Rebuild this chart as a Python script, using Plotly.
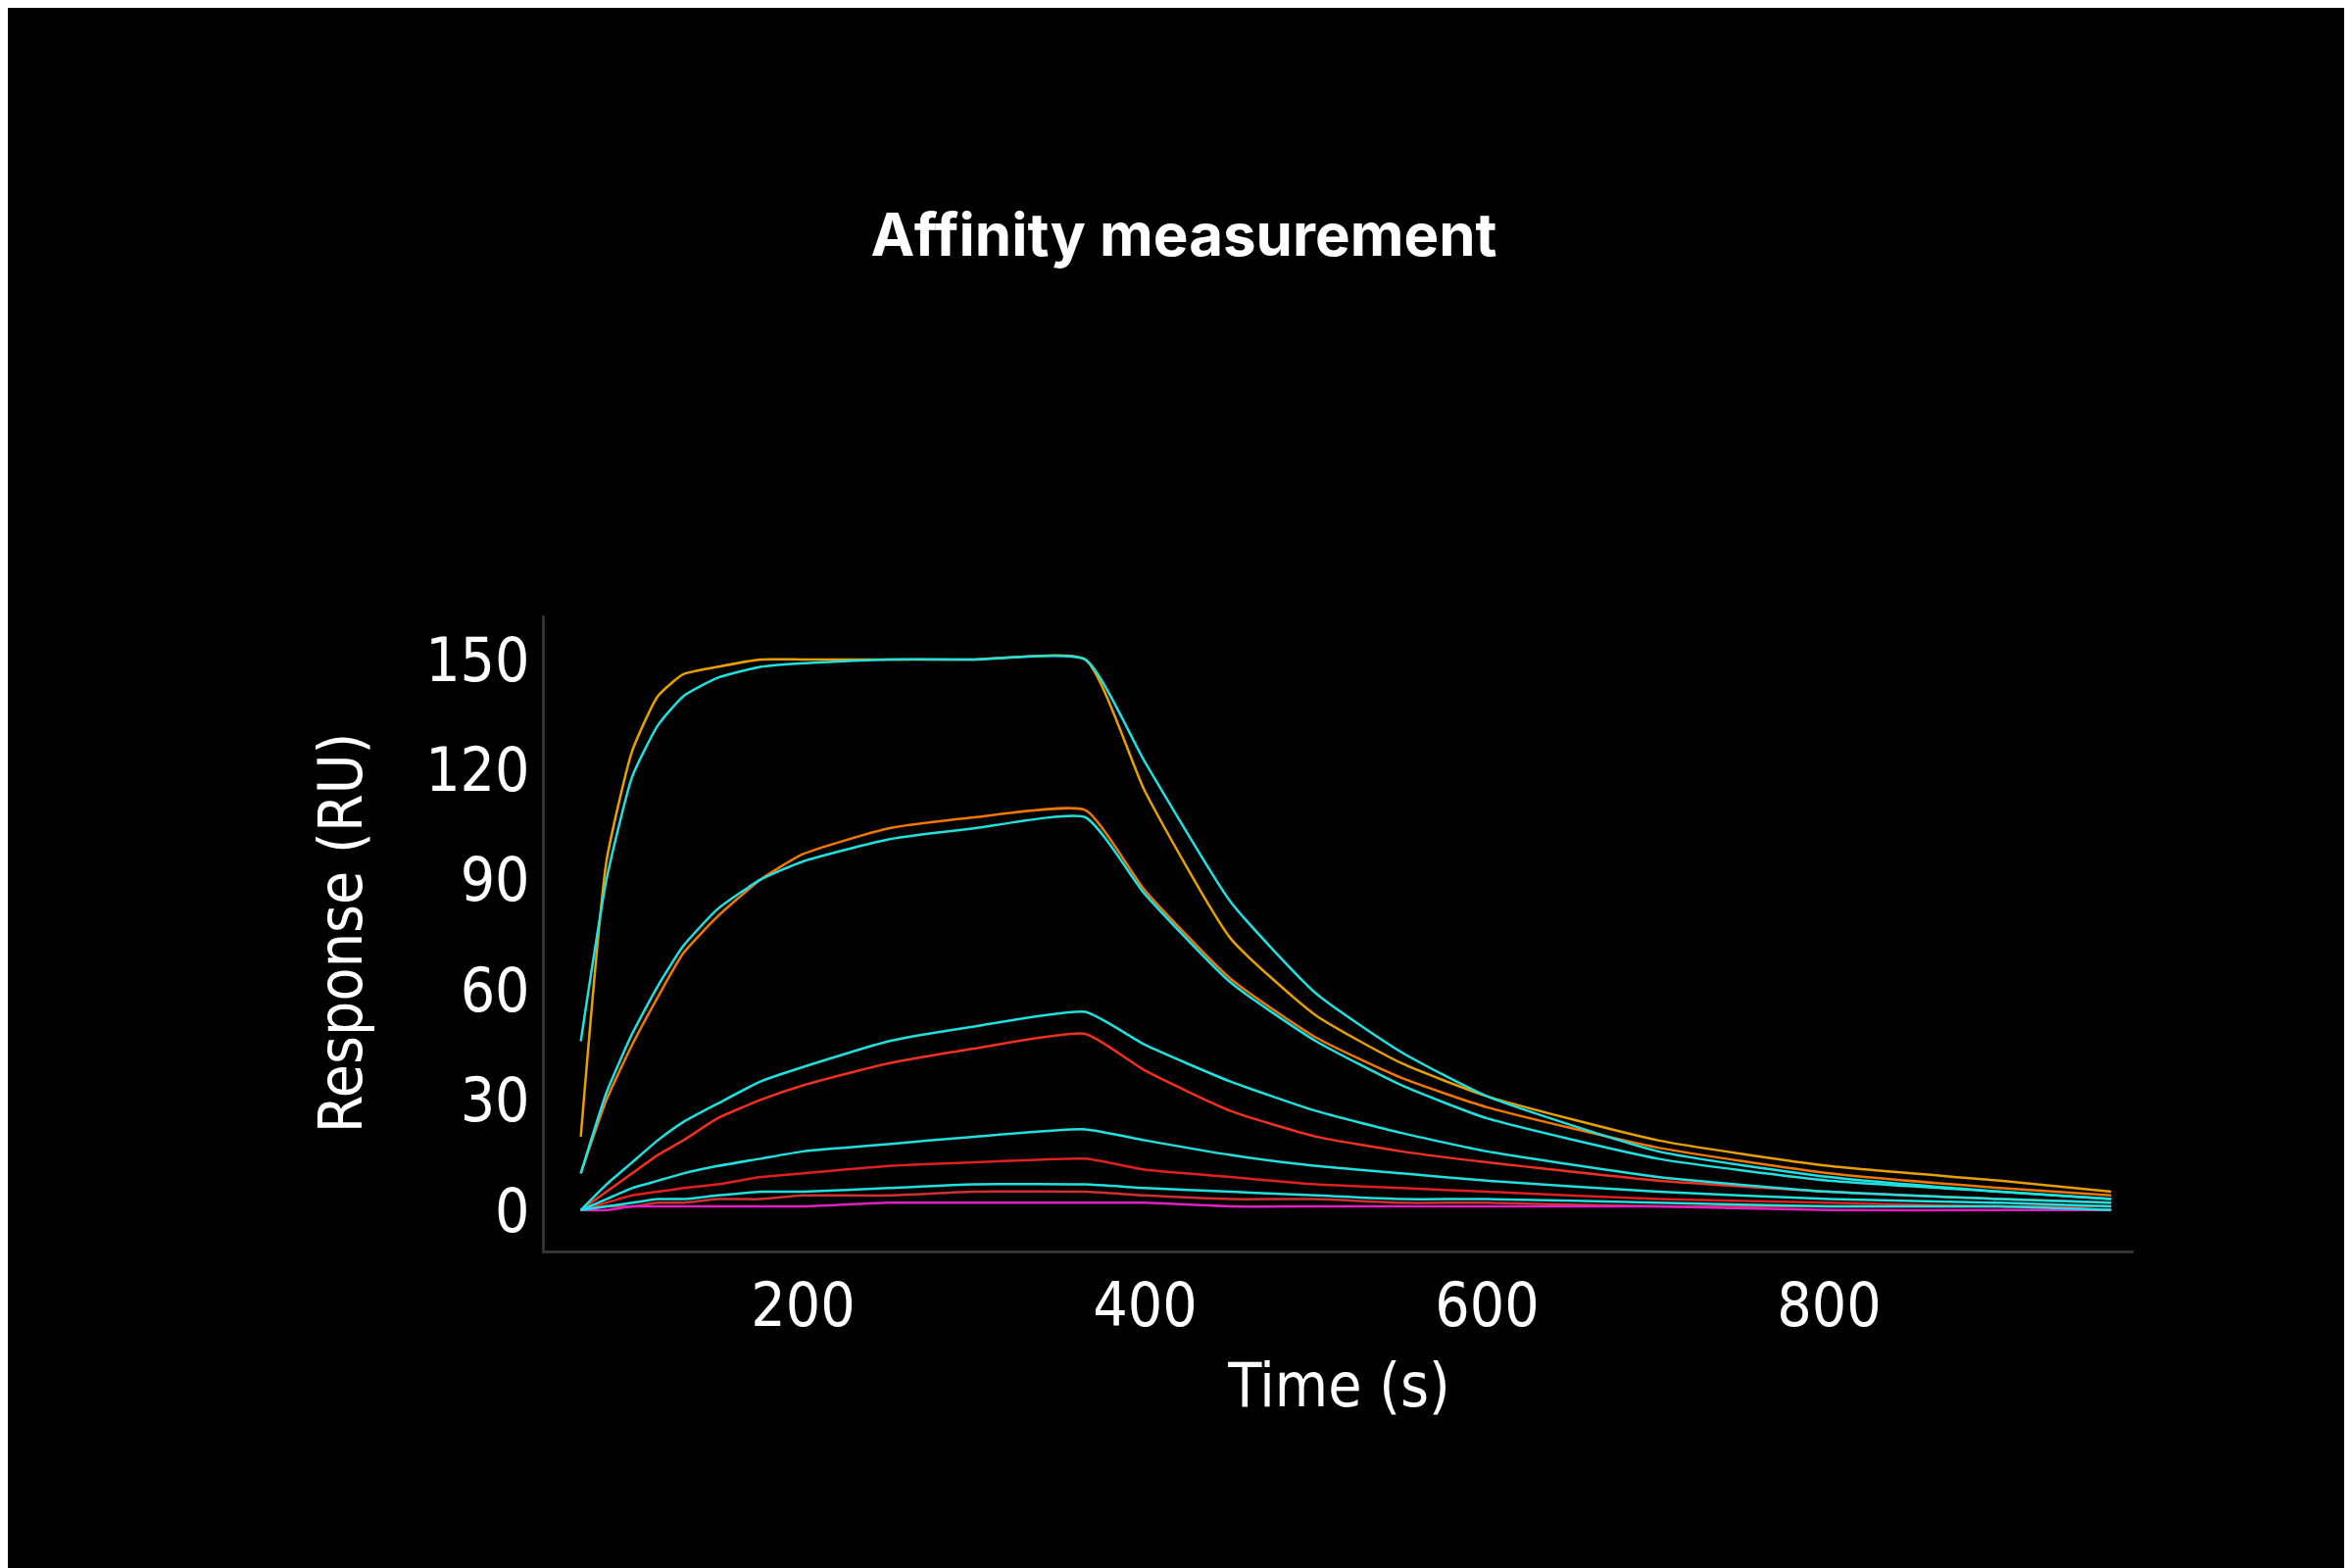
import plotly.graph_objects as go

# sample times (s)
t = [70, 85, 100, 115, 130, 150, 175, 200, 250, 300, 365,
     400, 450, 500, 550, 600, 700, 800, 900, 965]

# measured curves
meas_1 = [20, 95, 125, 140, 146, 148, 150, 150, 150, 150, 150,
          114, 74, 53, 40, 31, 19, 12, 8, 5]
meas_2 = [10, 30, 45, 58, 70, 80, 90, 97, 104, 107, 109,
          87, 63, 47, 36, 28, 17, 10, 6, 4]
meas_3 = [0, 5, 10, 15, 19, 25, 30, 34, 40, 44, 48,
          38, 27, 20, 16, 13, 8, 5, 3, 2]
meas_4 = [0, 2, 4, 5, 6, 7, 9, 10, 12, 13, 14,
          11, 9, 7, 6, 5, 3, 2, 1, 1]
meas_5 = [0, 1, 1, 2, 2, 3, 3, 4, 4, 5, 5,
          4, 3, 3, 2, 2, 1, 1, 1, 0]
meas_6 = [0, 0, 1, 1, 1, 1, 1, 1, 2, 2, 2,
          2, 1, 1, 1, 1, 1, 0, 0, 0]

# fitted curves
fit_1 = [46, 90, 118, 132, 140, 145, 148, 149, 150, 150, 150,
         122, 84, 59, 43, 31, 16, 9, 5, 3]
fit_2 = [10, 32, 48, 61, 72, 82, 90, 95, 101, 104, 107,
         86, 62, 46, 34, 25, 14, 8, 5, 3]
fit_3 = [0, 7, 13, 19, 24, 29, 35, 39, 46, 50, 54,
         45, 35, 27, 21, 16, 9, 5, 3, 2]
fit_4 = [0, 3, 6, 8, 10, 12, 14, 16, 18, 20, 22,
         19, 15, 12, 10, 8, 5, 3, 2, 1]
fit_5 = [0, 1, 2, 3, 3, 4, 5, 5, 6, 7, 7,
         6, 5, 4, 3, 3, 2, 1, 1, 0]

meas_colors = ['#E8A000', '#F07800', '#F03020', '#E02020', '#D03030', '#E020C0']
fit_color = '#20E0E0'

fig = go.Figure()
for ys, c in zip([meas_1, meas_2, meas_3, meas_4, meas_5, meas_6], meas_colors):
    fig.add_trace(go.Scatter(x=t, y=ys, mode='lines', line=dict(color=c, width=2.5, shape='spline', smoothing=0.5)))
for ys in [fit_1, fit_2, fit_3, fit_4, fit_5]:
    fig.add_trace(go.Scatter(x=t, y=ys, mode='lines', line=dict(color=fit_color, width=2.5, shape='spline', smoothing=0.5)))

font_fam = 'DejaVu Sans Condensed, Liberation Sans Narrow'
axis_common = dict(showgrid=False, zeroline=False, showline=True, linecolor='#333333', linewidth=3,
                   ticks='', tickfont=dict(size=62, color='white', family=font_fam),
                   title_font=dict(size=62, color='white', family=font_fam))

fig.update_layout(
    width=2400, height=1600,
    paper_bgcolor='black', plot_bgcolor='black',
    showlegend=False,
    title=dict(text='<b>Affinity measurement</b>', x=0.5, xanchor='center', y=0.855, yanchor='middle',
               font=dict(size=60, color='white', family='Inter')),
    margin=dict(l=548, r=231, t=620, b=332),
    xaxis=dict(range=[49, 978], tickvals=[200, 400, 600, 800], title=dict(text='Time (s)', standoff=25), **axis_common),
    yaxis=dict(range=[-11, 162], tickvals=[0, 30, 60, 90, 120, 150], title=dict(text='Response (RU)', standoff=45), **axis_common),
)

fig.write_html("out.html")
